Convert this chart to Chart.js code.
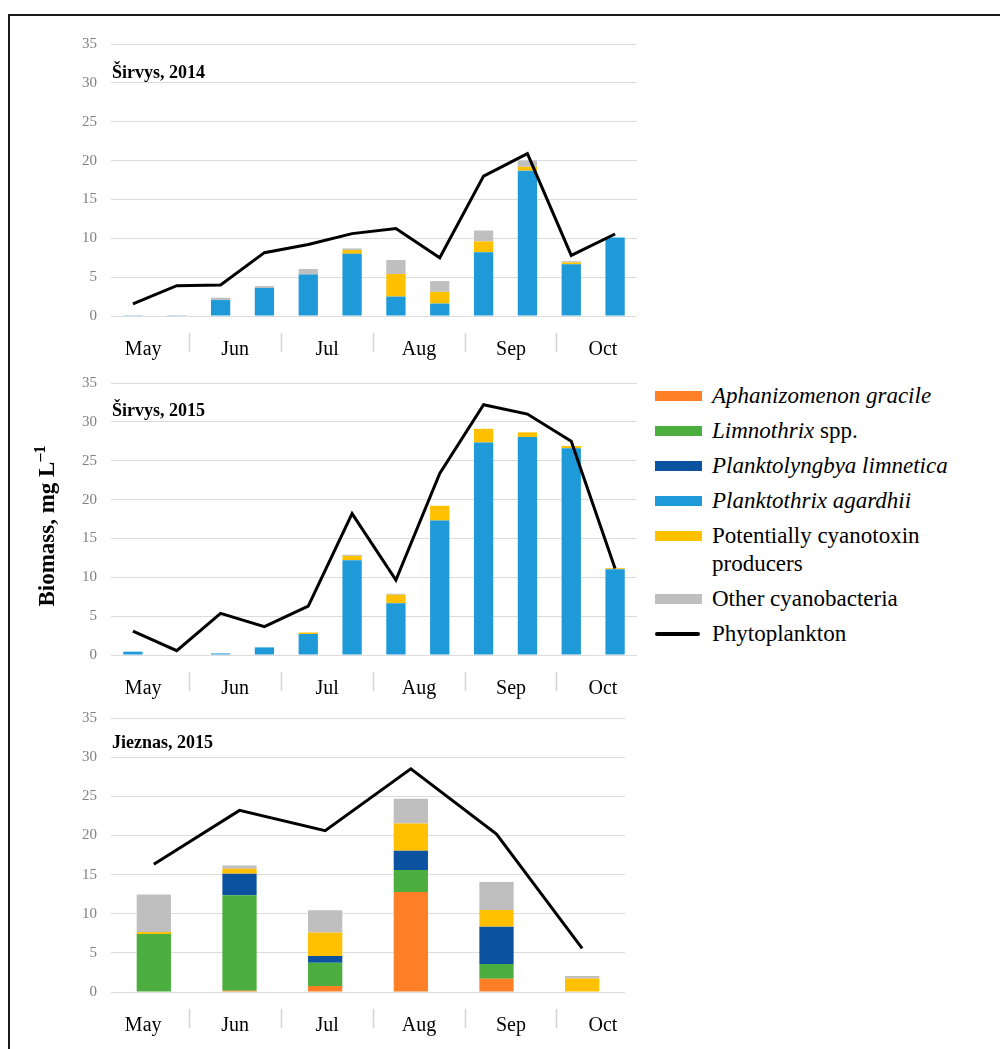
<!DOCTYPE html>
<html>
<head>
<meta charset="utf-8">
<script src="https://cdn.jsdelivr.net/npm/chart.js@4.4.1/dist/chart.umd.min.js"></script>
<style>
  html, body { margin:0; padding:0; background:#fff; width:1000px; height:1049px; overflow:hidden; }
  #frame { position:absolute; left:8px; top:14px; width:1010px; height:1060px; border:2px solid #1a1a1a; box-sizing:border-box; }
  .panel { position:absolute; }
  .ptitle { position:absolute; font-family:'Liberation Serif', serif; font-weight:bold; font-size:18px; line-height:18px; color:#000; white-space:nowrap; }
  #ytitle { position:absolute; width:300px; left:-103px; top:512px; height:28px; line-height:28px; text-align:center;
            font-family:'Liberation Serif', serif; font-weight:bold; font-size:23px; color:#000; transform:rotate(-90deg); transform-origin:50% 50%; white-space:nowrap; }
  #ytitle sup { font-size:0.7em; vertical-align:0.55em; line-height:0; }
  #legend { position:absolute; left:655px; top:378px; font-family:'Liberation Serif', serif; font-size:23px; color:#000; }
  .litem { display:flex; align-items:flex-start; padding:3.5px 0; }
  .lsw { width:47px; height:28px; display:flex; align-items:center; flex:none; }
  .lsw span { display:block; width:47px; height:10px; }
  .lsw span.ln { height:4px; border-radius:2px; width:45px; }
  .ltx { margin-left:10px; line-height:28px; width:265px; }
</style>
</head>
<body>
<div id="frame"></div>
<div class="panel" style="left:60px;top:21px;"><canvas id="c1" width="577" height="341"></canvas></div>
<div class="panel" style="left:60px;top:360px;"><canvas id="c2" width="577" height="341"></canvas></div>
<div class="panel" style="left:60px;top:695px;"><canvas id="c3" width="565" height="343"></canvas></div>
<div class="ptitle" id="t1" style="left:112px;top:63px;"></div>
<div class="ptitle" id="t2" style="left:112px;top:401px;"></div>
<div class="ptitle" id="t3" style="left:112px;top:733px;"></div>
<div id="ytitle">Biomass, mg L<sup>–1</sup></div>
<div id="legend"></div>
<script>
// ---------- data ----------
const panelTitles = ['Širvys, 2014', 'Širvys, 2015', 'Jieznas, 2015'];
const months = ['May', 'Jun', 'Jul', 'Aug', 'Sep', 'Oct'];
const samplings = ['May', 'May', 'Jun', 'Jun', 'Jul', 'Jul', 'Aug', 'Aug', 'Sep', 'Sep', 'Oct', 'Oct'];
const seriesNames = ['Aphanizomenon gracile', 'Limnothrix spp.', 'Planktolyngbya limnetica', 'Planktothrix agardhii',
                     'Potentially cyanotoxin producers', 'Other cyanobacteria', 'Phytoplankton'];
const seriesColors = ['#FF7F27', '#4BAE3E', '#0B53A0', '#1E9AD8', '#FFC000', '#BFBFBF', '#000000'];

// Širvys, 2014 (12 samplings)
const s14Agardhii = [0.1, 0.1, 2.05, 3.6, 5.35, 8.0, 2.5, 1.6, 8.2, 18.7, 6.65, 10.1];
const s14Toxin    = [0, 0, 0, 0, 0, 0.5, 2.9, 1.5, 1.4, 0.5, 0.25, 0];
const s14Other    = [0, 0, 0.3, 0.25, 0.7, 0.2, 1.8, 1.4, 1.4, 0.8, 0.15, 0];
const s14Phyto    = [1.55, 3.9, 4.0, 8.15, 9.2, 10.6, 11.25, 7.5, 18.0, 20.9, 7.8, 10.55];

// Širvys, 2015 (12 samplings)
const s15Agardhii = [0.43, 0, 0.2, 0.98, 2.7, 12.2, 6.65, 17.3, 27.35, 28.05, 26.6, 11.05];
const s15Toxin    = [0, 0, 0, 0, 0.2, 0.55, 1.1, 1.9, 1.75, 0.6, 0.3, 0.12];
const s15Other    = [0, 0, 0, 0, 0, 0.15, 0.13, 0, 0, 0, 0, 0];
const s15Phyto    = [3.08, 0.56, 5.36, 3.64, 6.3, 18.2, 9.64, 23.35, 32.2, 31.0, 27.5, 11.14];

// Jieznas, 2015 (monthly)
const j15Aphan   = [0, 0.15, 0.77, 12.76, 1.7, 0];
const j15Limno   = [7.4, 12.2, 2.97, 2.81, 1.87, 0];
const j15Plankto = [0, 2.76, 0.86, 2.46, 4.77, 0];
const j15Toxin   = [0.25, 0.64, 3.0, 3.49, 2.12, 1.74];
const j15Other   = [4.8, 0.42, 2.85, 3.15, 3.58, 0.3];
const j15Phyto   = [16.33, 23.2, 20.6, 28.5, 20.16, 5.57];

const yTicks = { min: 0, max: 35, step: 5 };

// ---------- chart ----------
Chart.defaults.font.family = "'Liberation Serif', serif";
const monthTickVals = months.flatMap((m, i) => i < months.length - 1 ? [i, i + 0.5] : [i]);

function buildChart(id, cfg) {
  const ds = cfg.bars.map(b => ({
    type: 'bar', label: seriesNames[b.i], data: b.values, backgroundColor: seriesColors[b.i],
    borderWidth: 0, stack: 'cyano', order: 1, barPercentage: cfg.barPct, categoryPercentage: 1
  }));
  ds.push({
    type: 'line', label: seriesNames[6], data: cfg.phyto, borderColor: seriesColors[6],
    borderWidth: 3, pointRadius: 0, tension: 0, fill: false, stack: 'phyto', order: 0
  });
  const sepColor = c => (c.tick && Number.isInteger(c.tick.value)) ? 'rgba(0,0,0,0)' : '#d4d4d4';
  return new Chart(document.getElementById(id), {
    type: 'bar',
    data: { labels: cfg.labels, datasets: ds },
    options: {
      responsive: false, animation: false,
      layout: { padding: { top: 0, left: 0, right: 0, bottom: 0 } },
      plugins: { legend: { display: false }, tooltip: { enabled: false } },
      scales: {
        x: { type: 'category', display: false, stacked: true, offset: true },
        xm: {
          type: 'linear', position: 'bottom', min: cfg.mMin, max: cfg.mMax, offset: false,
          afterBuildTicks: s => { s.ticks = monthTickVals.map(v => ({ value: v })); },
          afterFit: s => { s.height = 46; },
          ticks: {
            autoSkip: false, maxRotation: 0, minRotation: 0, padding: -14, color: '#000',
            font: { size: 20 },
            callback: v => Number.isInteger(v) ? months[v] : ''
          },
          grid: { offset: false, drawOnChartArea: false, tickLength: 36, color: sepColor, tickColor: sepColor,
                  tickWidth: 1.5, tickBorderDash: [0, 17, 19, 80] },
          border: { display: false }
        },
        y: {
          stacked: true, min: yTicks.min, max: yTicks.max,
          afterFit: s => { s.width = 51; },
          ticks: { stepSize: yTicks.step, color: '#808080', padding: 14, font: { size: 15 } },
          grid: { color: '#dcdcdc', drawTicks: false, lineWidth: 1 },
          border: { display: false }
        }
      }
    }
  });
}

buildChart('c1', {
  labels: samplings, barPct: 0.44, mMin: -0.35, mMax: 5.37, phyto: s14Phyto,
  bars: [{ i: 3, values: s14Agardhii }, { i: 4, values: s14Toxin }, { i: 5, values: s14Other }]
});
buildChart('c2', {
  labels: samplings, barPct: 0.44, mMin: -0.35, mMax: 5.37, phyto: s15Phyto,
  bars: [{ i: 3, values: s15Agardhii }, { i: 4, values: s15Toxin }, { i: 5, values: s15Other }]
});
buildChart('c3', {
  labels: months, barPct: 0.4, mMin: -0.35, mMax: 5.24, phyto: j15Phyto,
  bars: [{ i: 0, values: j15Aphan }, { i: 1, values: j15Limno }, { i: 2, values: j15Plankto },
         { i: 4, values: j15Toxin }, { i: 5, values: j15Other }]
});

['t1', 't2', 't3'].forEach((id, k) => { document.getElementById(id).textContent = panelTitles[k]; });

// ---------- legend ----------
const italicWords = [2, 1, 2, 2, 0, 0, 0]; // number of leading words set in italics
const legend = document.getElementById('legend');
seriesNames.forEach((name, i) => {
  const item = document.createElement('div'); item.className = 'litem';
  const sw = document.createElement('div'); sw.className = 'lsw';
  const sp = document.createElement('span'); sp.style.background = seriesColors[i];
  if (i === 6) sp.className = 'ln';
  sw.appendChild(sp);
  const tx = document.createElement('div'); tx.className = 'ltx';
  const words = name.split(' ');
  const n = italicWords[i];
  if (n > 0) {
    const em = document.createElement('i'); em.textContent = words.slice(0, n).join(' ');
    tx.appendChild(em);
    if (words.length > n) tx.appendChild(document.createTextNode(' ' + words.slice(n).join(' ')));
  } else {
    tx.textContent = name;
  }
  item.appendChild(sw); item.appendChild(tx);
  legend.appendChild(item);
});
</script>
</body>
</html>
